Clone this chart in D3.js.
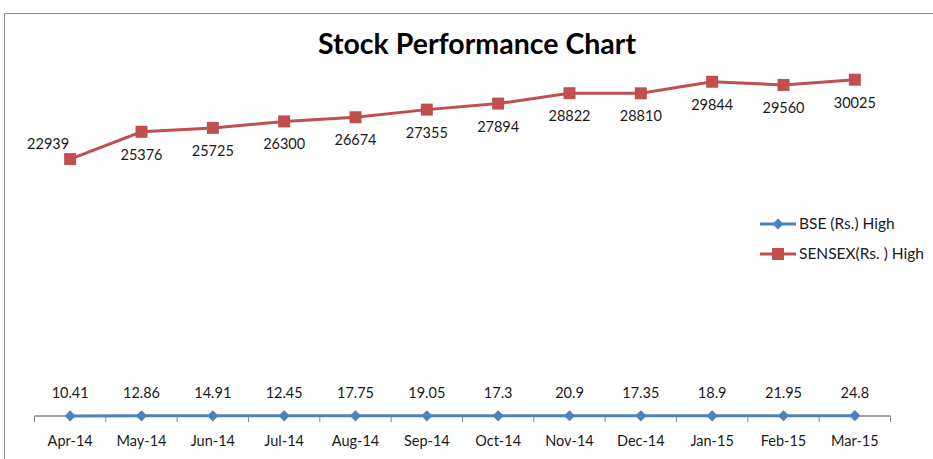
<!DOCTYPE html>
<html>
<head>
<meta charset="utf-8">
<script src="https://cdn.jsdelivr.net/npm/d3@7"></script>
<style>
  html, body { margin: 0; padding: 0; background: #fff; }
  svg { display: block; font-family: Lato, "Open Sans", sans-serif; }
</style>
</head>
<body>
<div id="chart"></div>
<script>
// --- Data ---
const months = ["Apr-14", "May-14", "Jun-14", "Jul-14", "Aug-14", "Sep-14",
                "Oct-14", "Nov-14", "Dec-14", "Jan-15", "Feb-15", "Mar-15"];
const bseHigh = [10.41, 12.86, 14.91, 12.45, 17.75, 19.05, 17.3, 20.9, 17.35, 18.9, 21.95, 24.8];
const sensexHigh = [22939, 25376, 25725, 26300, 26674, 27355, 27894, 28822, 28810, 29844, 29560, 30025];
const seriesNames = ["BSE (Rs.) High", "SENSEX(Rs. ) High"];

const W = 933, H = 459;
const plot = { left: 34.5, right: 890.5, top: 24, bottom: 416 };
const blue = "#4F81BD", red = "#C0504D";

const svg = d3.select("#chart").append("svg")
    .attr("width", W).attr("height", H);

// chart frame (only top and left edges visible in the crop)
svg.append("path")
    .attr("d", `M4.5,${H} V13.5 H${W}`)
    .attr("fill", "none")
    .attr("stroke", "#8c8c8c")
    .attr("stroke-width", 1);

svg.append("text")
    .attr("x", 477).attr("y", 54)
    .attr("text-anchor", "middle")
    .style("font-size", "28.5px")
    .style("font-weight", "bold")
    .attr("fill", "#000")
    .text("Stock Performance Chart");

const x = d3.scaleBand()
    .domain(months)
    .range([plot.left, plot.right])
    .padding(0);

const y = d3.scaleLinear()
    .domain([0, 35000])
    .range([plot.bottom, plot.top]);

const cx = m => x(m) + x.bandwidth() / 2;

// x axis with ticks at category boundaries
const axis = svg.append("g")
    .attr("transform", `translate(0, ${plot.bottom})`);
axis.append("line")
    .attr("x1", plot.left).attr("x2", plot.right)
    .attr("stroke", "#868686").attr("stroke-width", 1.5);
axis.selectAll(".tk")
    .data(months.concat(["__end"]))
    .join("line")
    .attr("x1", (d, i) => i < months.length ? x(d) : plot.right)
    .attr("x2", (d, i) => i < months.length ? x(d) : plot.right)
    .attr("y1", 0).attr("y2", 6)
    .attr("stroke", "#868686");
axis.selectAll(".lbl")
    .data(months)
    .join("text")
    .attr("x", d => cx(d))
    .attr("y", 30)
    .attr("text-anchor", "middle")
    .style("font-size", "14.5px")
    .attr("fill", "#1a1a1a")
    .text(d => d);

// series lines
const line = vals => d3.line()
    .x((v, i) => cx(months[i]))
    .y(v => y(v))(vals);

svg.append("path").attr("d", line(sensexHigh))
    .attr("fill", "none").attr("stroke", red).attr("stroke-width", 3);
svg.append("path").attr("d", line(bseHigh))
    .attr("fill", "none").attr("stroke", blue).attr("stroke-width", 3);

// markers
svg.selectAll(".sq")
    .data(sensexHigh)
    .join("rect")
    .attr("x", (v, i) => cx(months[i]) - 6)
    .attr("y", v => y(v) - 6)
    .attr("width", 12).attr("height", 12)
    .attr("fill", red);

const diamond = d3.symbol().type(d3.symbolDiamond2).size(80);
svg.selectAll(".dm")
    .data(bseHigh)
    .join("path")
    .attr("d", diamond)
    .attr("transform", (v, i) => `translate(${cx(months[i])}, ${y(v)})`)
    .attr("fill", blue);

// data labels
svg.selectAll(".slbl")
    .data(sensexHigh)
    .join("text")
    .attr("x", (v, i) => i === 0 ? cx(months[i]) - 1 : cx(months[i]))
    .attr("y", (v, i) => i === 0 ? y(v) - 10 : y(v) + 28)
    .attr("text-anchor", (v, i) => i === 0 ? "end" : "middle")
    .style("font-size", "14.5px")
    .attr("fill", "#1a1a1a")
    .text(v => v);

svg.selectAll(".blbl")
    .data(bseHigh)
    .join("text")
    .attr("x", (v, i) => cx(months[i]))
    .attr("y", v => y(v) - 18)
    .attr("text-anchor", "middle")
    .style("font-size", "14.5px")
    .attr("fill", "#1a1a1a")
    .text(v => v);

// legend
const legend = svg.append("g").attr("transform", "translate(760, 224)");
const items = legend.selectAll("g")
    .data(seriesNames)
    .join("g")
    .attr("transform", (d, i) => `translate(0, ${i * 30})`);
items.append("line")
    .attr("x1", 0).attr("x2", 36)
    .attr("stroke", (d, i) => i === 0 ? blue : red)
    .attr("stroke-width", 3);
items.filter((d, i) => i === 0).append("path")
    .attr("d", diamond)
    .attr("transform", "translate(18,0)")
    .attr("fill", blue);
items.filter((d, i) => i === 1).append("rect")
    .attr("x", 12).attr("y", -6).attr("width", 12).attr("height", 12)
    .attr("fill", red);
items.append("text")
    .attr("x", 39).attr("y", 5)
    .style("font-size", "15.5px")
    .attr("fill", "#1a1a1a")
    .text(d => d);
</script>
</body>
</html>
